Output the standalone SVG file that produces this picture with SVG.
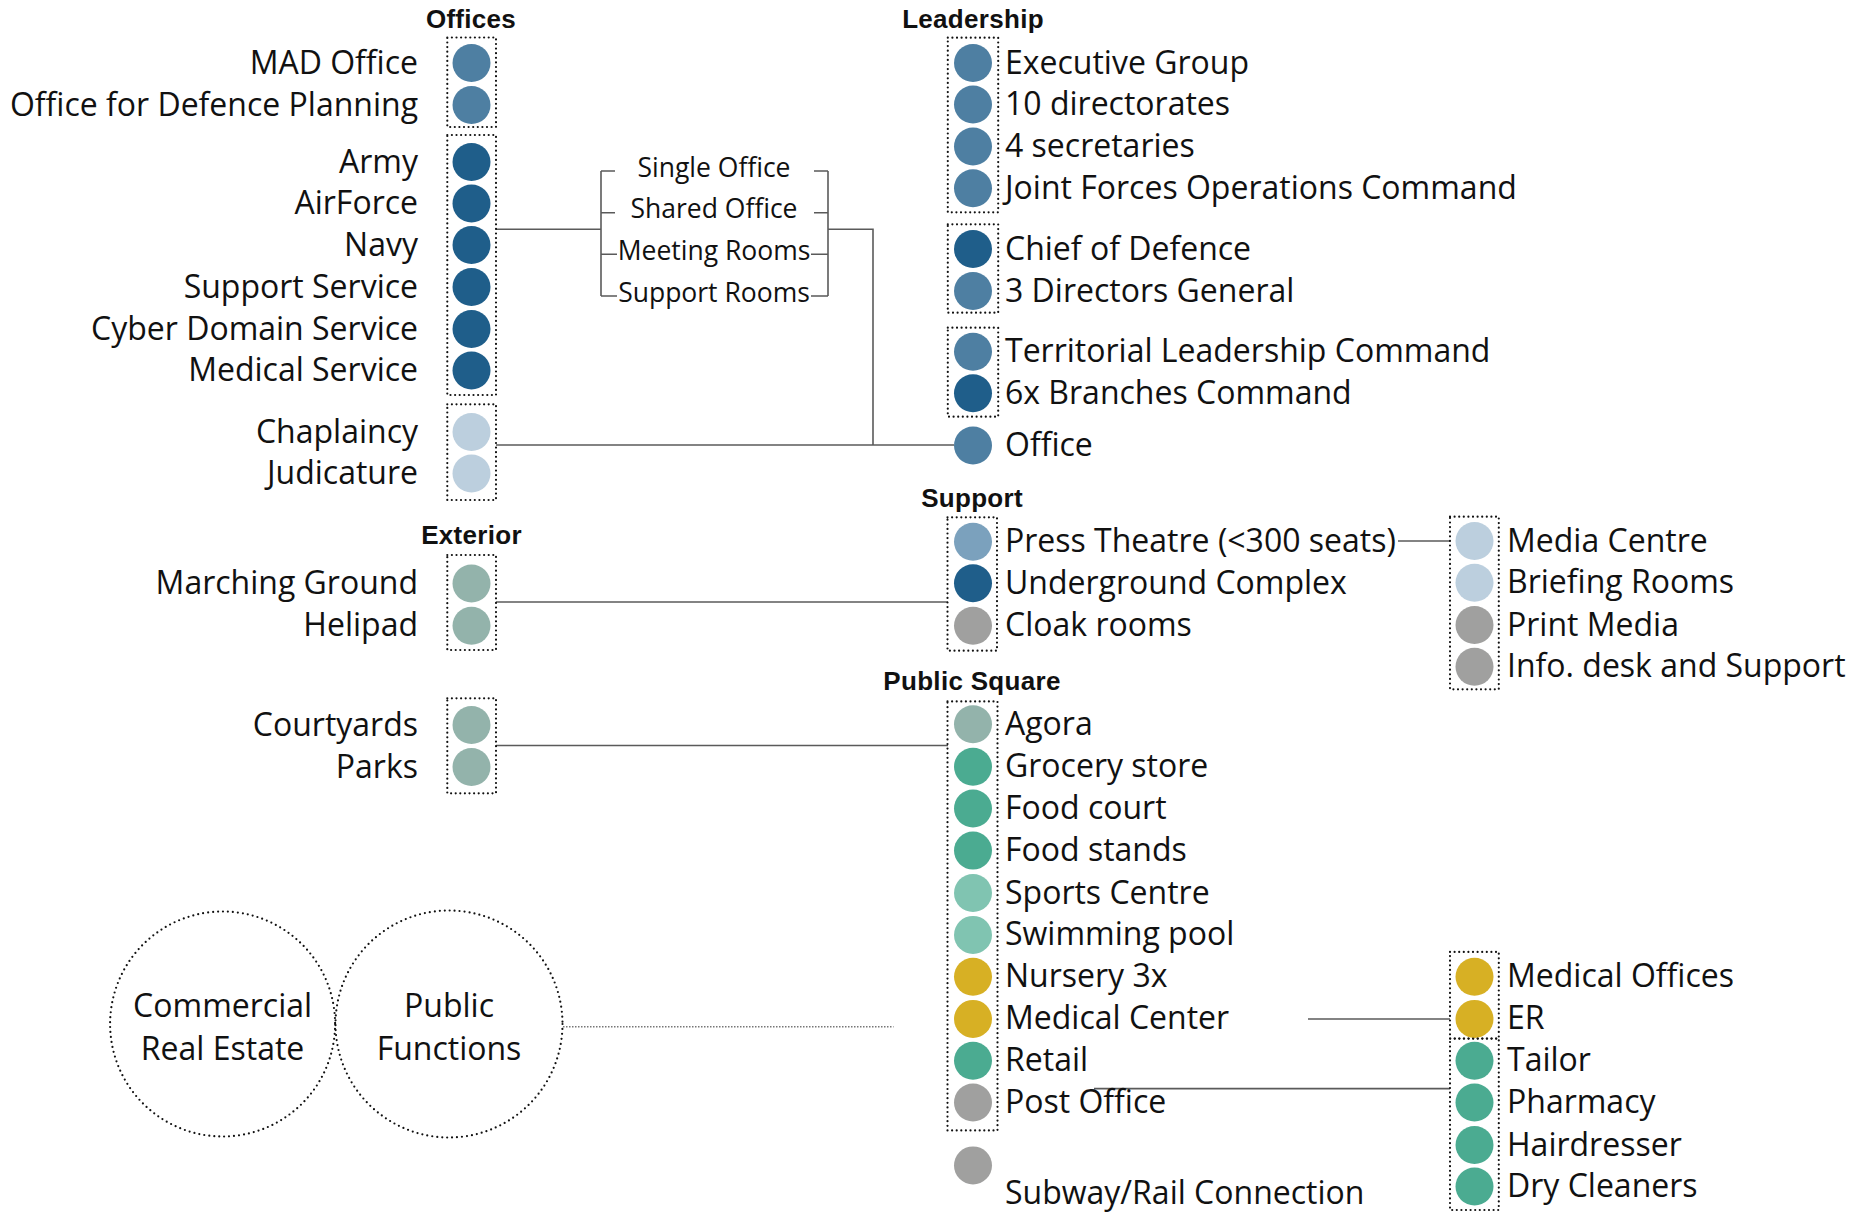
<svg xmlns="http://www.w3.org/2000/svg" width="1861" height="1213" viewBox="0 0 1861 1213">
<style>
text{font-family:"Open Sans","Liberation Sans",sans-serif;font-size:32px;font-weight:400;fill:#111}
.t{font-family:"Liberation Sans",Arial,sans-serif;font-weight:700;font-size:26px;letter-spacing:0.3px;text-anchor:middle}
.r{text-anchor:end}
.m{text-anchor:middle}
.b{font-size:26.5px}
.box{fill:none;stroke:#111;stroke-width:2.2;stroke-dasharray:0 4.6;stroke-linecap:round}
.ring{fill:none;stroke:#111;stroke-width:2.2;stroke-dasharray:0 5;stroke-linecap:round}
.ln{fill:none;stroke:#5a5a5a;stroke-width:1.6}
.dl{fill:none;stroke:#777;stroke-width:1.5;stroke-dasharray:1.5 1.5}
.mid{fill:#4e7fa2}.dark{fill:#1f5e8a}.light{fill:#bccfde}.press{fill:#7ba1bd}
.sage{fill:#93b3ab}.teal{fill:#4bab91}.lteal{fill:#80c4b1}.yel{fill:#d7b024}.gray{fill:#a0a09f}
</style>

<g id="connectors">
<path class="ln" d="M496 229.3H601M601 171V296M601 171H615M601 212.7H615M601 254.3H617M601 296H617"/>
<path class="ln" d="M814 171H828M814 212.7H828M811 254.3H828M811 296H828M828 171V296M828 229.3H873V445"/>
<path class="ln" d="M496 445H954"/>
<path class="ln" d="M496 602H948"/>
<path class="ln" d="M496 745.5H948"/>
<path class="ln" d="M1398 541H1450"/>
<path class="ln" d="M1308 1019H1450"/>
<path class="ln" d="M1094 1088.6H1450"/>
<path class="dl" d="M563 1026.7H893.5"/>
</g>

<g id="bracket-labels">
<text class="m b" x="714" y="176.7">Single Office</text>
<text class="m b" x="714" y="218">Shared Office</text>
<text class="m b" x="714" y="260">Meeting Rooms</text>
<text class="m b" x="714" y="301.7">Support Rooms</text>
</g>

<g id="titles">
<text class="t" x="471" y="28">Offices</text>
<text class="t" x="973" y="28">Leadership</text>
<text class="t" x="471.5" y="544">Exterior</text>
<text class="t" x="972" y="506.7">Support</text>
<text class="t" x="972" y="690">Public Square</text>
</g>

<g id="offices-planning">
<rect class="box" x="447.3" y="37.5" width="48.7" height="89.5"/>
<circle class="mid" cx="471.5" cy="63" r="19"/>
<circle class="mid" cx="471.5" cy="105" r="19"/>
<text class="r" x="418" y="73.5">MAD Office</text>
<text class="r" x="418" y="115.5">Office for Defence Planning</text>
</g>

<g id="offices-branches">
<rect class="box" x="447.3" y="135" width="48.7" height="260"/>
<circle class="dark" cx="471.5" cy="162" r="19"/>
<circle class="dark" cx="471.5" cy="203.5" r="19"/>
<circle class="dark" cx="471.5" cy="245" r="19"/>
<circle class="dark" cx="471.5" cy="287" r="19"/>
<circle class="dark" cx="471.5" cy="329" r="19"/>
<circle class="dark" cx="471.5" cy="370.5" r="19"/>
<text class="r" x="418" y="172.5">Army</text>
<text class="r" x="418" y="214">AirForce</text>
<text class="r" x="418" y="255.5">Navy</text>
<text class="r" x="418" y="297.5">Support Service</text>
<text class="r" x="418" y="339.5">Cyber Domain Service</text>
<text class="r" x="418" y="381">Medical Service</text>
</g>

<g id="offices-other">
<rect class="box" x="447.3" y="404.3" width="48.7" height="95.7"/>
<circle class="light" cx="471.5" cy="432" r="19"/>
<circle class="light" cx="471.5" cy="473.5" r="19"/>
<text class="r" x="418" y="442.5">Chaplaincy</text>
<text class="r" x="418" y="484">Judicature</text>
</g>

<g id="exterior">
<rect class="box" x="447.3" y="555" width="48.7" height="95"/>
<circle class="sage" cx="471.5" cy="583.5" r="19"/>
<circle class="sage" cx="471.5" cy="625.7" r="19"/>
<text class="r" x="418" y="594">Marching Ground</text>
<text class="r" x="418" y="636">Helipad</text>
</g>

<g id="green-spaces">
<rect class="box" x="447.3" y="698.3" width="48.7" height="95"/>
<circle class="sage" cx="471.5" cy="725" r="19"/>
<circle class="sage" cx="471.5" cy="767" r="19"/>
<text class="r" x="418" y="735.5">Courtyards</text>
<text class="r" x="418" y="777.5">Parks</text>
</g>

<g id="leadership-executive">
<rect class="box" x="947.8" y="37.7" width="50.4" height="174.6"/>
<circle class="mid" cx="973" cy="63" r="19"/>
<circle class="mid" cx="973" cy="104.5" r="19"/>
<circle class="mid" cx="973" cy="146.5" r="19"/>
<circle class="mid" cx="973" cy="188.3" r="19"/>
<text x="1005" y="73.8">Executive Group</text>
<text x="1005" y="115">10 directorates</text>
<text x="1005" y="157">4 secretaries</text>
<text x="1005" y="198.8">Joint Forces Operations Command</text>
</g>

<g id="leadership-defence">
<rect class="box" x="947.8" y="224.3" width="50.4" height="88.4"/>
<circle class="dark" cx="973" cy="249" r="19"/>
<circle class="mid" cx="973" cy="291" r="19"/>
<text x="1005" y="259.5">Chief of Defence</text>
<text x="1005" y="301.5">3 Directors General</text>
</g>

<g id="leadership-command">
<rect class="box" x="947.8" y="327.7" width="50.4" height="89"/>
<circle class="mid" cx="973" cy="351.7" r="19"/>
<circle class="dark" cx="973" cy="393.3" r="19"/>
<text x="1005" y="362.2">Territorial Leadership Command</text>
<text x="1005" y="403.8">6x Branches Command</text>
</g>

<g id="leadership-office">
<circle class="mid" cx="973" cy="445.5" r="19"/>
<text x="1005" y="456">Office</text>
</g>

<g id="support">
<rect class="box" x="947.5" y="517.3" width="49.5" height="133.4"/>
<circle class="press" cx="973" cy="541.7" r="19"/>
<circle class="dark" cx="973" cy="583.3" r="19"/>
<circle class="gray" cx="973" cy="625.7" r="19"/>
<text x="1005" y="552.2">Press Theatre (&lt;300 seats)</text>
<text x="1005" y="593.8">Underground Complex</text>
<text x="1005" y="636.2">Cloak rooms</text>
</g>

<g id="media-centre">
<rect class="box" x="1450" y="516.7" width="48.8" height="172.6"/>
<circle class="light" cx="1474.5" cy="541" r="19"/>
<circle class="light" cx="1474.5" cy="582.7" r="19"/>
<circle class="gray" cx="1474.5" cy="625" r="19"/>
<circle class="gray" cx="1474.5" cy="666.7" r="19"/>
<text x="1507" y="551.5">Media Centre</text>
<text x="1507" y="593.2">Briefing Rooms</text>
<text x="1507" y="635.5">Print Media</text>
<text x="1507" y="677.2">Info. desk and Support</text>
</g>

<g id="public-square">
<rect class="box" x="947.5" y="701.4" width="50" height="429"/>
<circle class="sage" cx="973" cy="724.2" r="19"/>
<circle class="teal" cx="973" cy="766.7" r="19"/>
<circle class="teal" cx="973" cy="808.5" r="19"/>
<circle class="teal" cx="973" cy="850.6" r="19"/>
<circle class="lteal" cx="973" cy="893" r="19"/>
<circle class="lteal" cx="973" cy="934.9" r="19"/>
<circle class="yel" cx="973" cy="976.7" r="19"/>
<circle class="yel" cx="973" cy="1018.9" r="19"/>
<circle class="teal" cx="973" cy="1060.7" r="19"/>
<circle class="gray" cx="973" cy="1102.5" r="19"/>
<text x="1005" y="734.7">Agora</text>
<text x="1005" y="777.2">Grocery store</text>
<text x="1005" y="819">Food court</text>
<text x="1005" y="861.1">Food stands</text>
<text x="1005" y="903.5">Sports Centre</text>
<text x="1005" y="945.4">Swimming pool</text>
<text x="1005" y="987.2">Nursery 3x</text>
<text x="1005" y="1029.4">Medical Center</text>
<text x="1005" y="1071.2">Retail</text>
<text x="1005" y="1113">Post Office</text>
</g>

<g id="subway">
<circle class="gray" cx="973" cy="1165.4" r="19"/>
<text x="1005" y="1203.5">Subway/Rail Connection</text>
</g>

<g id="medical">
<rect class="box" x="1450" y="951.9" width="48.8" height="86.7"/>
<circle class="yel" cx="1474.5" cy="976.7" r="19"/>
<circle class="yel" cx="1474.5" cy="1018.9" r="19"/>
<text x="1507" y="987.2">Medical Offices</text>
<text x="1507" y="1029.4">ER</text>
</g>

<g id="retail">
<rect class="box" x="1450" y="1038.6" width="48.8" height="171.4"/>
<circle class="teal" cx="1474.5" cy="1060.7" r="19"/>
<circle class="teal" cx="1474.5" cy="1102.5" r="19"/>
<circle class="teal" cx="1474.5" cy="1145" r="19"/>
<circle class="teal" cx="1474.5" cy="1186.5" r="19"/>
<text x="1507" y="1071.2">Tailor</text>
<text x="1507" y="1113">Pharmacy</text>
<text x="1507" y="1155.5">Hairdresser</text>
<text x="1507" y="1197">Dry Cleaners</text>
</g>

<g id="commercial-real-estate">
<circle class="ring" cx="222.6" cy="1024" r="112.5"/>
<text class="m" x="222.6" y="1016.7">Commercial</text>
<text class="m" x="222.6" y="1060">Real Estate</text>
</g>

<g id="public-functions">
<circle class="ring" cx="449" cy="1024" r="113.5"/>
<text class="m" x="449" y="1016.7">Public</text>
<text class="m" x="449" y="1060">Functions</text>
</g>
</svg>
